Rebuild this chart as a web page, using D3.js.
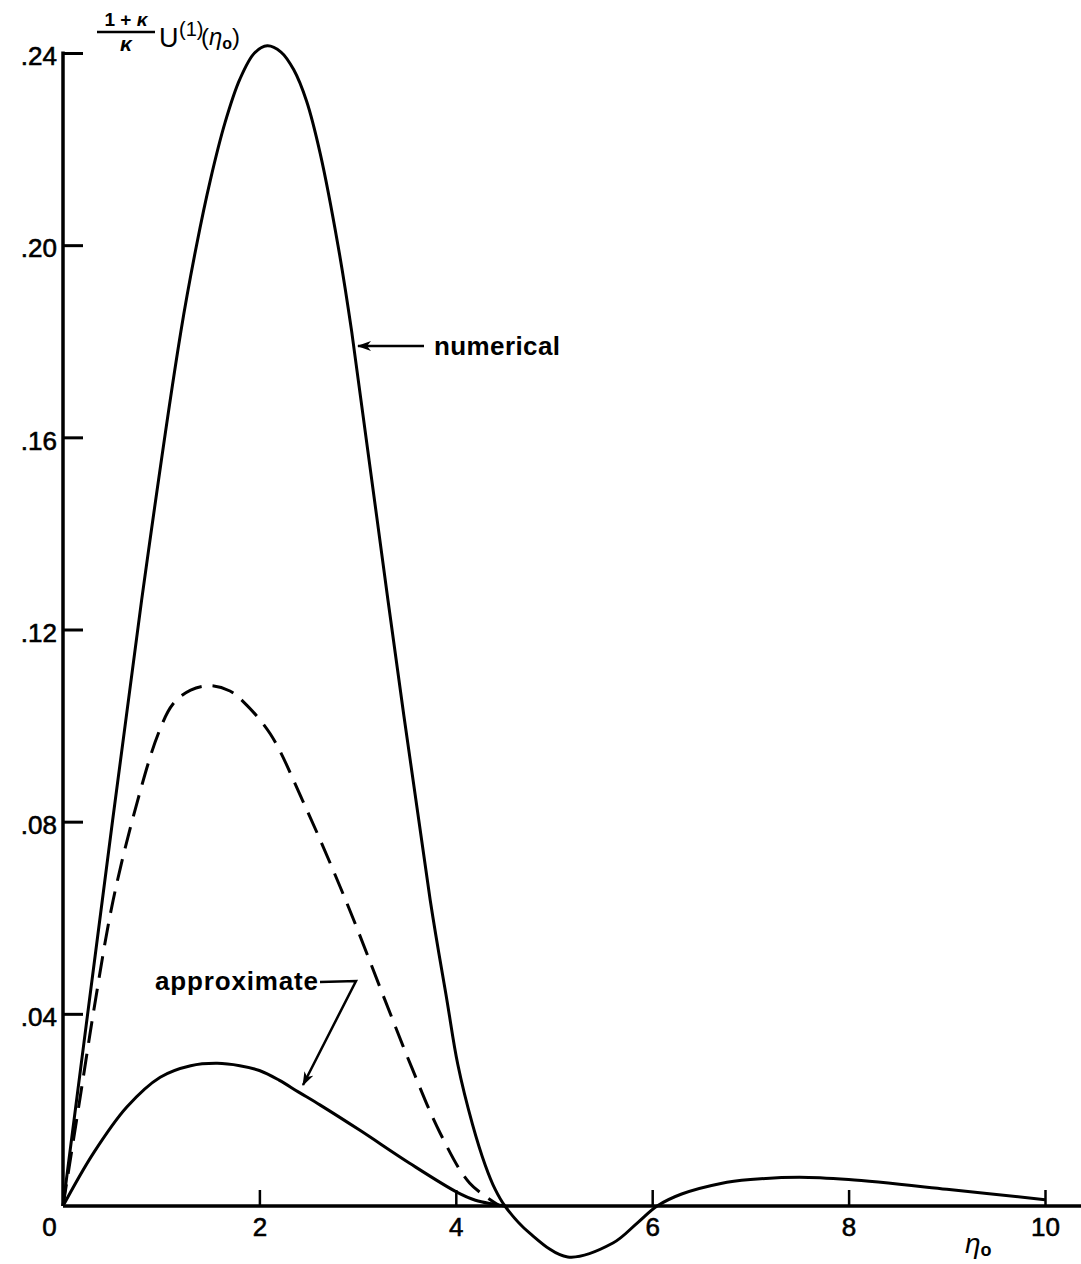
<!DOCTYPE html>
<html>
<head>
<meta charset="utf-8">
<script src="https://cdn.jsdelivr.net/npm/d3@7"></script>
<style>
  html, body { margin: 0; padding: 0; background: #fff; }
  svg { display: block; }
  text { font-family: "Liberation Sans", Arial, sans-serif; fill: #000; }
</style>
</head>
<body>
<svg id="chart" width="1081" height="1264"></svg>
<script>
// eta_0 values and U^(1) curves
const numericalEta = [0, 0.4, 0.8, 1.2, 1.36, 1.5, 1.65, 1.8, 1.95, 2.08, 2.22, 2.35, 2.48, 2.62, 2.8, 2.94, 3.31, 3.74, 3.91, 4.02, 4.17, 4.3, 4.4, 4.5, 4.75, 5.14, 5.6, 5.85, 6.05, 6.3, 6.7, 7.0, 7.5, 8.0, 9.0, 10.0];
const numericalU   = [0, 0.0636, 0.126, 0.182, 0.200, 0.2135, 0.2255, 0.2345, 0.2400, 0.2415, 0.2402, 0.2365, 0.2300, 0.219, 0.200, 0.182, 0.126, 0.0636, 0.0428, 0.0295, 0.0170, 0.0085, 0.0035, 0, -0.0056, -0.0106, -0.0077, -0.0035, 0, 0.0025, 0.0047, 0.0055, 0.006, 0.0055, 0.0035, 0.0013];

const dashedEta = [0, 0.17, 0.33, 0.51, 0.76, 0.97, 1.12, 1.3, 1.5, 1.7, 1.83, 2.11, 2.44, 2.88, 3.28, 3.55, 3.84, 4.14, 4.45];
const dashedU   = [0, 0.022, 0.0428, 0.0636, 0.0844, 0.0983, 0.1045, 0.1074, 0.1083, 0.1072, 0.1051, 0.0983, 0.0844, 0.0636, 0.0428, 0.0289, 0.0152, 0.0048, 0];

const approxEta = [0, 0.31, 0.65, 0.99, 1.3, 1.57, 1.8, 2.0, 2.2, 2.4, 2.62, 3.02, 3.53, 4.01, 4.2, 4.38, 4.5];
const approxU   = [0, 0.011, 0.0206, 0.0268, 0.0292, 0.0297, 0.0292, 0.0282, 0.0262, 0.0237, 0.021, 0.0158, 0.0089, 0.0029, 0.0012, 0.0004, 0];

const xTicks = [0, 2, 4, 6, 8, 10];
const xTickLabels = ["0", "2", "4", "6", "8", "10"];
const yTicks = [0.04, 0.08, 0.12, 0.16, 0.20, 0.24];
const yTickLabels = [".04", ".08", ".12", ".16", ".20", ".24"];

const W = 1081, H = 1264;
const svg = d3.select("#chart");

const x = d3.scaleLinear().domain([0, 10]).range([63, 1045]);
const y = d3.scaleLinear().domain([0, 0.24]).range([1206, 53]);

// axes
const yAxis = d3.axisLeft(y)
  .tickValues(yTicks)
  .tickFormat((d, i) => yTickLabels[i])
  .tickSizeInner(-20)
  .tickSizeOuter(0)
  .tickPadding(6);
const gy = svg.append("g").attr("transform", `translate(${x(0)},0)`).call(yAxis);
gy.select(".domain").remove();
gy.selectAll(".tick line").attr("stroke", "#000").attr("stroke-width", 3);
gy.selectAll(".tick text")
  .style("font-size", "26px")
  .attr("stroke", "#000").attr("stroke-width", 0.6)
  .attr("dy", "0.45em");

const xAxis = d3.axisBottom(x)
  .tickValues(xTicks)
  .tickFormat((d, i) => xTickLabels[i])
  .tickSizeInner(-16)
  .tickSizeOuter(0)
  .tickPadding(12);
const gx = svg.append("g").attr("transform", `translate(0,${y(0)})`).call(xAxis);
gx.select(".domain").remove();
gx.selectAll(".tick line").attr("stroke", "#000").attr("stroke-width", 2.5)
  .filter(d => d === 0).remove();
gx.selectAll(".tick text")
  .style("font-size", "26px")
  .attr("stroke", "#000").attr("stroke-width", 0.6)
  .attr("dx", d => d === 0 ? -14 : 0);

// axis lines
svg.append("line")
  .attr("x1", x(0)).attr("x2", W)
  .attr("y1", y(0)).attr("y2", y(0))
  .attr("stroke", "#000").attr("stroke-width", 3.5);
svg.append("line")
  .attr("x1", x(0)).attr("x2", x(0))
  .attr("y1", y(0.24) - 1.5).attr("y2", y(0))
  .attr("stroke", "#000").attr("stroke-width", 3.5);

// curves
const line = d3.line()
  .x(d => x(d[0]))
  .y(d => y(d[1]))
  .curve(d3.curveCatmullRom.alpha(0.5));

const zip = (a, b) => a.map((v, i) => [v, b[i]]);

svg.append("path")
  .datum(zip(numericalEta, numericalU))
  .attr("d", line)
  .attr("fill", "none").attr("stroke", "#000").attr("stroke-width", 3);

svg.append("path")
  .datum(zip(dashedEta, dashedU))
  .attr("d", line)
  .attr("fill", "none").attr("stroke", "#000").attr("stroke-width", 3)
  .attr("stroke-dasharray", "22,11");

svg.append("path")
  .datum(zip(approxEta, approxU))
  .attr("d", line)
  .attr("fill", "none").attr("stroke", "#000").attr("stroke-width", 3);

// arrowhead marker
svg.append("defs").append("marker")
  .attr("id", "arrow")
  .attr("viewBox", "0 0 14 10")
  .attr("refX", 13).attr("refY", 5)
  .attr("markerWidth", 14).attr("markerHeight", 10)
  .attr("markerUnits", "userSpaceOnUse")
  .attr("orient", "auto")
  .append("path")
  .attr("d", "M0,0 L14,5 L0,10 L4,5 Z")
  .attr("fill", "#000");

// "numerical" annotation
svg.append("line")
  .attr("x1", 424).attr("y1", 346)
  .attr("x2", 358).attr("y2", 346)
  .attr("stroke", "#000").attr("stroke-width", 2.5)
  .attr("marker-end", "url(#arrow)");
svg.append("text")
  .attr("x", 434).attr("y", 355)
  .attr("textLength", 126).attr("lengthAdjust", "spacing")
  .style("font-size", "26px").style("font-weight", "bold")
  .text("numerical");

// "approximate" annotation
svg.append("text")
  .attr("x", 155).attr("y", 990)
  .attr("textLength", 163).attr("lengthAdjust", "spacing")
  .style("font-size", "26px").style("font-weight", "bold")
  .text("approximate");
svg.append("path")
  .attr("d", "M320,982 L356,981 L303,1085")
  .attr("fill", "none").attr("stroke", "#000").attr("stroke-width", 2.5)
  .attr("marker-end", "url(#arrow)");

// y-axis title: (1+κ)/κ U^(1)(η₀)
const title = svg.append("g");
title.append("text")
  .attr("x", 126).attr("y", 26).attr("text-anchor", "middle")
  .style("font-size", "19px").style("font-weight", "bold")
  .html('1 + <tspan font-style="italic">κ</tspan>');
title.append("line")
  .attr("x1", 97).attr("x2", 155).attr("y1", 32).attr("y2", 32)
  .attr("stroke", "#000").attr("stroke-width", 2.5);
title.append("text")
  .attr("x", 126).attr("y", 51).attr("text-anchor", "middle")
  .style("font-size", "21px").style("font-weight", "bold").style("font-style", "italic")
  .text("κ");
title.append("text")
  .attr("x", 159).attr("y", 47)
  .style("font-size", "27px")
  .text("U");
title.append("text")
  .attr("x", 179).attr("y", 36)
  .style("font-size", "20px")
  .text("(1)");
title.append("text")
  .attr("x", 201).attr("y", 45)
  .style("font-size", "24px")
  .html('(<tspan font-style="italic">η</tspan><tspan dy="4" font-size="16px" font-weight="bold">o</tspan><tspan dy="-4">)</tspan>');

// x-axis title η₀
svg.append("text")
  .attr("x", 965).attr("y", 1253)
  .style("font-size", "28px")
  .html('<tspan font-style="italic">η</tspan><tspan dy="3" font-size="18px" font-weight="bold">o</tspan>');
</script>
</body>
</html>
